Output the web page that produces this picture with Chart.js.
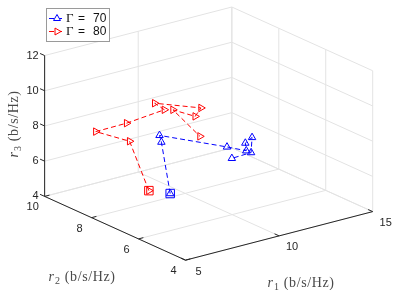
<!DOCTYPE html>
<html>
<head>
<meta charset="utf-8">
<script src="https://cdn.jsdelivr.net/npm/chart.js@4.4.1/dist/chart.umd.min.js"></script>
<style>
  html, body { margin: 0; padding: 0; background: #fff; }
  canvas { display: block; }
</style>
</head>
<body>
<canvas id="chart" width="399" height="290"></canvas>
<script>
// axis limits and ticks (b/s/Hz)
const r1Lim = [5, 15];
const r2Lim = [4, 10];
const r3Lim = [4, 12];
const r1Ticks = [5, 10, 15];
const r2Ticks = [4, 6, 8, 10];
const r3Ticks = [4, 6, 8, 10, 12];

// Gamma = 70 (blue)
const g70R1 = [6.69, 6.22, 6.12, 8.47, 9.50, 9.45, 9.81, 9.13, 8.73];
const g70R2 = [6.0, 6.0, 6.0, 5.0, 5.0, 5.0, 5.0, 4.5, 5.0];
const g70R3 = [6.11, 9.16, 9.57, 8.87, 8.37, 8.82, 9.04, 8.67, 8.15];

// Gamma = 80 (red)
const g80R1 = [8.06, 7.03, 5.85, 6.87, 8.26, 8.37, 9.59, 8.65, 8.72, 8.28];
const g80R2 = [8.0, 8.0, 8.5, 8.0, 7.5, 8.0, 7.0, 6.5, 7.5, 6.0];
const g80R3 = [4.69, 7.78, 8.35, 8.85, 9.53, 9.57, 9.57, 9.65, 9.40, 8.92];

// 3d view: screen extent (px) of each full axis, like matlab view(-37.5, 30)
const viewX = [194, 51];
const viewY = [-146, 67];
const viewZ = [0, 148];

function proj(a, b, c) {
  const nx = (a - r1Lim[0]) / (r1Lim[1] - r1Lim[0]);
  const ny = (b - r2Lim[0]) / (r2Lim[1] - r2Lim[0]);
  const nz = (c - r3Lim[0]) / (r3Lim[1] - r3Lim[0]);
  return {
    x: nx * viewX[0] + ny * viewY[0] + nz * viewZ[0],
    y: nx * viewX[1] + ny * viewY[1] + nz * viewZ[1]
  };
}

const toPoints = (xs, ys, zs) => xs.map((v, i) => proj(v, ys[i], zs[i]));

const BLUE = '#0000ff';
const RED = '#ff0000';
const AXIS = '#262626';
const GRID = '#e3e3e3';

function drawLabel(ctx, sub, cx, cy, rot) {
  ctx.save();
  ctx.translate(cx, cy);
  ctx.rotate(rot);
  ctx.fillStyle = '#4a4a4a';
  ctx.textAlign = 'left';
  ctx.textBaseline = 'alphabetic';
  const fR = 'italic 14px "Liberation Serif"';
  const fS = '10px "Liberation Serif"';
  const fT = '14px "Liberation Serif"';
  const rest = ' (b/s/Hz)';
  ctx.letterSpacing = '0.6px';
  ctx.font = fR; const w1 = ctx.measureText('r').width + 0.5;
  ctx.font = fS; const w2 = ctx.measureText(sub).width;
  ctx.font = fT; const w3 = ctx.measureText(rest).width;
  let x = -(w1 + w2 + w3) / 2;
  ctx.font = fR; ctx.fillText('r', x, 5); x += w1;
  ctx.font = fS; ctx.fillText(sub, x, 8); x += w2;
  ctx.font = fT; ctx.fillText(rest, x, 5);
  ctx.restore();
}

const box3d = {
  id: 'box3d',
  beforeDatasetsDraw(chart) {
    const ctx = chart.ctx;
    const xs = chart.scales.x, ys = chart.scales.y;
    const P = (a, b, c) => {
      const p = proj(a, b, c);
      return [xs.getPixelForValue(p.x), ys.getPixelForValue(p.y)];
    };
    const line = (p, q) => {
      ctx.beginPath();
      ctx.moveTo(p[0], p[1]);
      ctx.lineTo(q[0], q[1]);
      ctx.stroke();
    };
    ctx.save();
    ctx.lineWidth = 1;

    // grid on back walls and floor
    ctx.strokeStyle = GRID;
    r1Ticks.forEach(t => {
      line(P(t, r2Lim[1], r3Lim[0]), P(t, r2Lim[1], r3Lim[1]));
      line(P(t, r2Lim[0], r3Lim[0]), P(t, r2Lim[1], r3Lim[0]));
    });
    r2Ticks.forEach(t => {
      line(P(r1Lim[1], t, r3Lim[0]), P(r1Lim[1], t, r3Lim[1]));
      line(P(r1Lim[0], t, r3Lim[0]), P(r1Lim[1], t, r3Lim[0]));
    });
    r3Ticks.forEach(t => {
      line(P(r1Lim[0], r2Lim[1], t), P(r1Lim[1], r2Lim[1], t));
      line(P(r1Lim[1], r2Lim[0], t), P(r1Lim[1], r2Lim[1], t));
    });

    // axes
    ctx.strokeStyle = AXIS;
    line(P(r1Lim[0], r2Lim[1], r3Lim[0]), P(r1Lim[0], r2Lim[1], r3Lim[1]));
    line(P(r1Lim[0], r2Lim[0], r3Lim[0]), P(r1Lim[0], r2Lim[1], r3Lim[0]));
    line(P(r1Lim[0], r2Lim[0], r3Lim[0]), P(r1Lim[1], r2Lim[0], r3Lim[0]));

    const dir = (p, q, len) => {
      const dx = q[0] - p[0], dy = q[1] - p[1], d = Math.hypot(dx, dy);
      return [dx / d * len, dy / d * len];
    };
    const o = P(r1Lim[0], r2Lim[0], r3Lim[0]);
    const dX = dir(o, P(r1Lim[1], r2Lim[0], r3Lim[0]), 5);
    const dY = dir(o, P(r1Lim[0], r2Lim[1], r3Lim[0]), 5);

    ctx.fillStyle = AXIS;
    ctx.font = '11px "Liberation Sans"';

    // r3 ticks
    ctx.textAlign = 'right';
    ctx.textBaseline = 'middle';
    r3Ticks.forEach(t => {
      const p = P(r1Lim[0], r2Lim[1], t);
      line(p, [p[0] + dY[0], p[1] + dY[1]]);
      ctx.fillText(String(t), p[0] - 6, p[1]);
    });
    // r2 ticks
    ctx.textAlign = 'center';
    r2Ticks.forEach(t => {
      const p = P(r1Lim[0], t, r3Lim[0]);
      line(p, [p[0] + dX[0], p[1] + dX[1]]);
      ctx.fillText(String(t), p[0] - 12, p[1] + 11);
    });
    // r1 ticks
    r1Ticks.forEach(t => {
      const p = P(t, r2Lim[0], r3Lim[0]);
      line(p, [p[0] + dY[0], p[1] + dY[1]]);
      ctx.fillText(String(t), p[0] + 13, p[1] + 11.5);
    });

    drawLabel(ctx, '1', 301, 282, 0);
    drawLabel(ctx, '2', 82, 276, 0);
    drawLabel(ctx, '3', 13, 124, -Math.PI / 2);
    ctx.restore();
  },
  afterDraw(chart) {
    const ctx = chart.ctx;
    ctx.save();
    // legend box
    ctx.fillStyle = '#fff';
    ctx.fillRect(46, 8, 64, 33);
    ctx.strokeStyle = '#9a9a9a';
    ctx.lineWidth = 1;
    ctx.strokeRect(46.5, 8.5, 63, 33);

    const entries = [
      { color: BLUE, rot: 0, text: '70', y: 18 },
      { color: RED, rot: 90, text: '80', y: 31 }
    ];
    entries.forEach(e => {
      ctx.strokeStyle = e.color;
      ctx.setLineDash([5, 3]);
      ctx.beginPath();
      ctx.moveTo(49, e.y + 0.5);
      ctx.lineTo(65, e.y + 0.5);
      ctx.stroke();
      ctx.setLineDash([]);
      ctx.fillStyle = '#fff';
      Chart.helpers.drawPoint(ctx, { pointStyle: 'triangle', radius: 4, rotation: e.rot, borderWidth: 1 }, 57, e.y + 0.5);
      ctx.fillStyle = '#111';
      ctx.textBaseline = 'middle';
      ctx.textAlign = 'left';
      ctx.font = '13px "Liberation Serif"';
      ctx.fillText('\u0393', 66, e.y + 1);
      ctx.font = '12px "Liberation Sans"';
      ctx.fillText('=', 78, e.y + 1);
      ctx.fillText(e.text, 93, e.y + 1);
    });
    ctx.restore();
  }
};

const g70 = toPoints(g70R1, g70R2, g70R3);
const g80 = toPoints(g80R1, g80R2, g80R3);

const seriesStyle = (color, rot) => ({
  showLine: true,
  borderColor: color,
  borderWidth: 1,
  borderDash: [5, 3],
  pointStyle: 'triangle',
  pointRotation: rot,
  pointRadius: 4.3,
  pointHoverRadius: 4.3,
  pointBorderColor: color,
  pointBackgroundColor: 'rgba(0,0,0,0)',
  pointBorderWidth: 1
});

const startStyle = color => ({
  showLine: false,
  pointStyle: 'rect',
  pointRadius: 6,
  pointHoverRadius: 6,
  pointBorderColor: color,
  pointBackgroundColor: 'rgba(0,0,0,0)',
  pointBorderWidth: 1
});

const ctx = document.getElementById('chart').getContext('2d');
new Chart(ctx, {
  type: 'scatter',
  data: {
    datasets: [
      Object.assign({ label: '\u0393 = 70', data: g70 }, seriesStyle(BLUE, 0)),
      Object.assign({ label: '\u0393 = 80', data: g80 }, seriesStyle(RED, 90)),
      Object.assign({ label: 'start 70', data: [g70[0]] }, startStyle(BLUE)),
      Object.assign({ label: 'start 80', data: [g80[0]] }, startStyle(RED))
    ]
  },
  options: {
    responsive: false,
    animation: false,
    devicePixelRatio: 1,
    layout: { padding: 0 },
    plugins: { legend: { display: false }, tooltip: { enabled: false } },
    scales: {
      x: { type: 'linear', min: -185, max: 214, display: false },
      y: { type: 'linear', min: -24, max: 266, display: false }
    }
  },
  plugins: [box3d]
});
</script>
</body>
</html>
